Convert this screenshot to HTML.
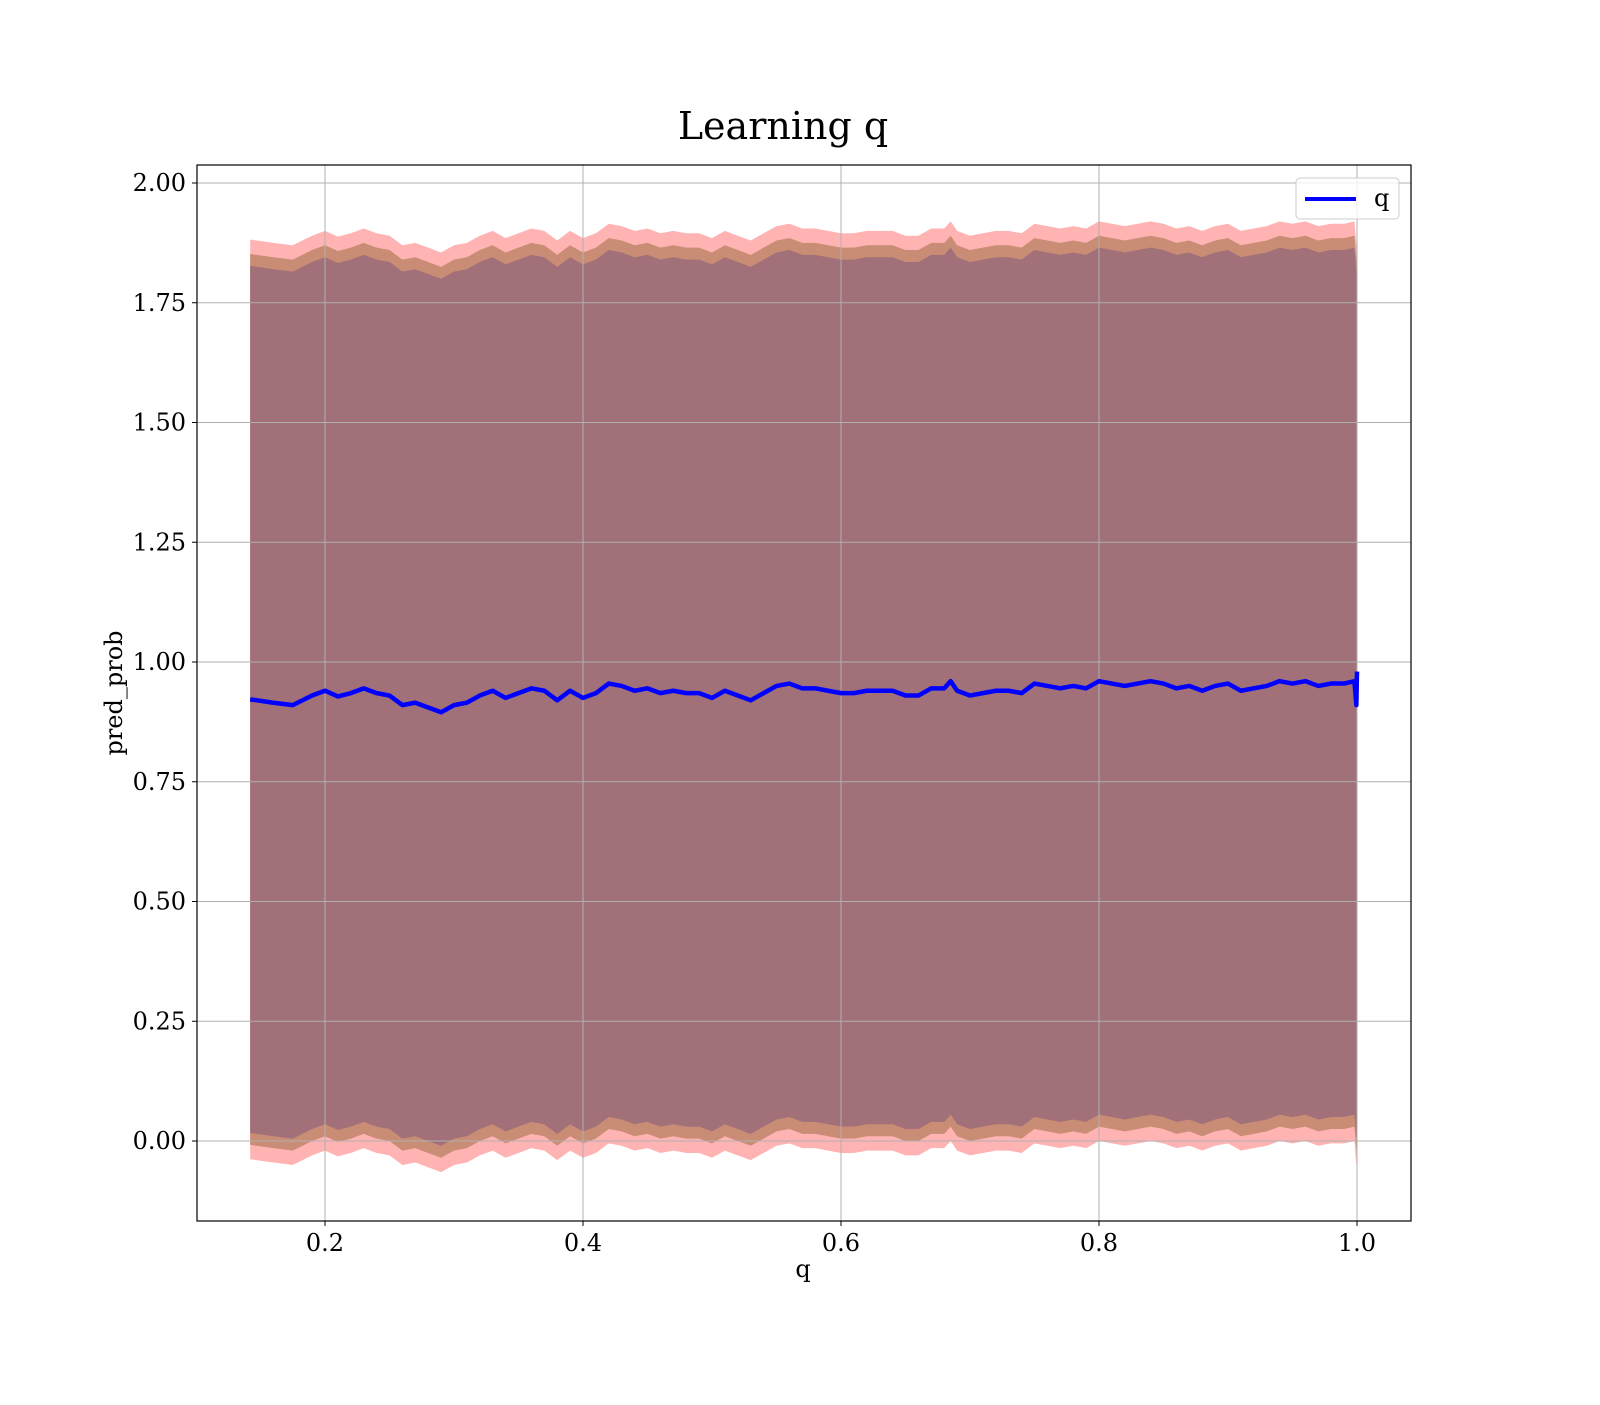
<!DOCTYPE html>
<html><head><meta charset="utf-8"><style>
body{margin:0;background:#fff}
svg{font-family:"DejaVu Serif","Liberation Serif",serif}
</style></head><body>
<svg id="chart" width="1600" height="1400" xmlns="http://www.w3.org/2000/svg">
<rect width="1600" height="1400" fill="#fff"/>
<text x="783" y="139" font-size="38" text-anchor="middle">Learning q</text>
<g id="bands"></g><g id="grid"></g><g id="line"></g><g id="ticks"></g>
<rect x="197" y="165" width="1214" height="1056" fill="none" stroke="#000" stroke-width="1.2"/>
<text x="803" y="1277" font-size="24" text-anchor="middle">q</text>
<text x="0" y="0" font-size="24" text-anchor="middle" transform="translate(122,693) rotate(-90)">pred_prob</text>
<g>
<rect x="1296" y="178" width="103" height="41" rx="4" fill="#fff" fill-opacity="0.8" stroke="#ccc"/>
<line x1="1305" y1="199" x2="1356" y2="199" stroke="#0000ff" stroke-width="4"/>
<text x="1374" y="206" font-size="24">q</text>
</g>
</svg>
<script>
const qValues=[0.142,0.16,0.175,0.19,0.2,0.21,0.22,0.23,0.24,0.25,0.26,0.27,0.28,0.29,0.3,0.31,0.32,0.33,0.34,0.35,0.36,0.37,0.38,0.39,0.4,0.41,0.42,0.43,0.44,0.45,0.46,0.47,0.48,0.49,0.5,0.51,0.52,0.53,0.54,0.55,0.56,0.57,0.58,0.59,0.6,0.61,0.62,0.63,0.64,0.65,0.66,0.67,0.68,0.685,0.69,0.7,0.71,0.72,0.73,0.74,0.75,0.76,0.77,0.78,0.79,0.8,0.81,0.82,0.83,0.84,0.85,0.86,0.87,0.88,0.89,0.9,0.91,0.92,0.93,0.94,0.95,0.96,0.97,0.98,0.99,0.998,0.9995,1.0];
const meanValues=[0.922,0.915,0.91,0.93,0.94,0.928,0.935,0.945,0.935,0.93,0.91,0.915,0.905,0.895,0.91,0.915,0.93,0.94,0.925,0.935,0.945,0.94,0.92,0.94,0.925,0.935,0.955,0.95,0.94,0.945,0.935,0.94,0.935,0.935,0.925,0.94,0.93,0.92,0.935,0.95,0.955,0.945,0.945,0.94,0.935,0.935,0.94,0.94,0.94,0.93,0.93,0.945,0.945,0.96,0.94,0.93,0.935,0.94,0.94,0.935,0.955,0.95,0.945,0.95,0.945,0.96,0.955,0.95,0.955,0.96,0.955,0.945,0.95,0.94,0.95,0.955,0.94,0.945,0.95,0.96,0.955,0.96,0.95,0.955,0.955,0.96,0.91,0.98];
const bandHalfWidths=[0.96,0.93,0.905];
const bandColors=["#ffb3b3","#c98c74","#a17079"];
const xTicks=[0.2,0.4,0.6,0.8,1.0];
const xTickLabels=["0.2","0.4","0.6","0.8","1.0"];
const yTicks=[0,0.25,0.5,0.75,1,1.25,1.5,1.75,2];
const yTickLabels=["0.00","0.25","0.50","0.75","1.00","1.25","1.50","1.75","2.00"];
const NS="http://www.w3.org/2000/svg";
const X=v=>67+1290*v, Y=v=>1141-479*v;
function mk(t,a,p){const e=document.createElementNS(NS,t);for(const k in a)e.setAttribute(k,a[k]);document.getElementById(p).appendChild(e);return e;}
bandHalfWidths.forEach((h,i)=>{
  let d=qValues.map((q,j)=>(j?"L":"M")+X(q)+","+Y(meanValues[j]+h)).join("");
  for(let j=qValues.length-1;j>=0;j--)d+="L"+X(qValues[j])+","+Y(meanValues[j]-h);
  const p=mk("path",{d:d+"Z",fill:bandColors[i]},"bands");
  
  
});
xTicks.forEach((t,i)=>{
  const g=mk("line",{x1:X(t),x2:X(t),y1:165,y2:1221,stroke:"#b0b0b0","stroke-width":1},"grid");
  
  
  mk("line",{x1:X(t),x2:X(t),y1:1221,y2:1226,stroke:"#000"},"ticks");
  const tx=mk("text",{x:X(t),y:1251,"font-size":24,"text-anchor":"middle"},"ticks");
  tx.textContent=xTickLabels[i];
  
  
});
yTicks.forEach((t,i)=>{
  const g=mk("line",{x1:197,x2:1411,y1:Y(t),y2:Y(t),stroke:"#b0b0b0","stroke-width":1},"grid");
  
  
  mk("line",{x1:192,x2:197,y1:Y(t),y2:Y(t),stroke:"#000"},"ticks");
  const tx=mk("text",{x:186,y:Y(t)+8,"font-size":24,"text-anchor":"end"},"ticks");
  tx.textContent=yTickLabels[i];
  
  
});
const ln=mk("path",{d:qValues.map((q,j)=>(j?"L":"M")+X(q)+","+Y(meanValues[j])).join(""),fill:"none",stroke:"#0000ff","stroke-width":4.5,"stroke-linejoin":"round"},"line");


</script>
</body></html>
